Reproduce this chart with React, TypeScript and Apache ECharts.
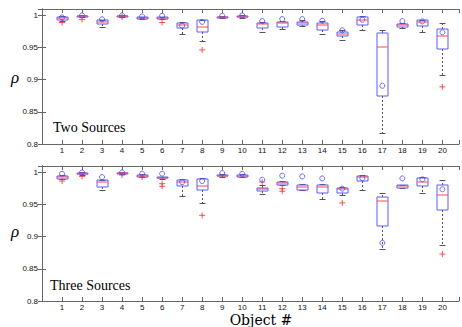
import React, { useEffect, useRef } from 'react';
import * as echarts from 'echarts';

const objects = [1, 2, 3, 4, 5, 6, 7, 8, 9, 10, 11, 12, 13, 14, 15, 16, 17, 18, 19, 20];
const yTicks = [0.8, 0.85, 0.9, 0.95, 1];

// Two Sources
const twoLow = [0.992, 0.997, 0.9815, 0.998, 0.9945, 0.9945, 0.9706, 0.9608, 0.9955, 0.9965, 0.975, 0.9788, 0.984, 0.9706, 0.9613, 0.978, 0.817, 0.981, 0.9737, 0.9067];
const twoQ1 = [0.9925, 0.997, 0.987, 0.9985, 0.9945, 0.9945, 0.98, 0.975, 0.9962, 0.997, 0.98, 0.9814, 0.9858, 0.978, 0.9675, 0.9845, 0.874, 0.9825, 0.9835, 0.9484];
const twoMed = [0.9955, 0.9985, 0.99, 0.999, 0.9957, 0.9955, 0.9845, 0.982, 0.997, 0.998, 0.986, 0.9876, 0.988, 0.9845, 0.9717, 0.9923, 0.9515, 0.9845, 0.9892, 0.968];
const twoQ3 = [0.997, 0.9995, 0.9928, 0.9998, 0.997, 0.997, 0.988, 0.9928, 0.998, 0.9993, 0.9876, 0.99, 0.99, 0.9887, 0.9737, 0.9969, 0.9732, 0.986, 0.9923, 0.979];
const twoHigh = [0.999, 1.0, 0.9935, 1.0, 0.998, 0.9975, 0.99, 0.993, 0.9985, 1.0, 0.9895, 0.992, 0.9935, 0.991, 0.977, 0.9985, 0.977, 0.9875, 0.9933, 0.989];
const twoCircle = [0.997, 1.0, 0.994, 1.0, 0.9985, 0.9995, 0.984, 0.99, 0.9995, 1.0, 0.9912, 0.9943, 0.9943, 0.9918, 0.9768, 0.9933, 0.8906, 0.9912, 0.9907, 0.9737];
const twoOutliers = [[1, 0.989], [2, 0.9935], [4, 0.9975], [6, 0.989], [8, 0.9463], [20, 0.889]];

// Three Sources
const threeLow = [0.9895, 0.9965, 0.9733, 0.997, 0.9925, 0.99, 0.964, 0.9517, 0.9935, 0.9925, 0.9665, 0.98, 0.9733, 0.9594, 0.9645, 0.9733, 0.8812, 0.9755, 0.9686, 0.8869];
const threeQ1 = [0.9903, 0.9969, 0.978, 0.9974, 0.9928, 0.9907, 0.9784, 0.9722, 0.9938, 0.9928, 0.9718, 0.981, 0.9733, 0.9676, 0.9676, 0.9861, 0.9162, 0.9764, 0.9789, 0.9418];
const threeMed = [0.993, 0.998, 0.9856, 0.9985, 0.994, 0.9915, 0.985, 0.9794, 0.995, 0.995, 0.9748, 0.983, 0.9773, 0.9768, 0.9738, 0.9923, 0.9548, 0.9784, 0.985, 0.965];
const threeQ3 = [0.9938, 0.999, 0.9877, 0.9995, 0.9954, 0.9923, 0.9877, 0.9902, 0.996, 0.9964, 0.9764, 0.9846, 0.98, 0.98, 0.9764, 0.9949, 0.9625, 0.9804, 0.9912, 0.9804];
const threeHigh = [0.996, 1.0, 0.9885, 1.0, 0.997, 0.9935, 0.99, 0.992, 0.998, 0.998, 0.981, 0.9866, 0.9815, 0.9815, 0.978, 0.9964, 0.9686, 0.981, 0.9928, 0.9887];
const threeCircle = [0.998, 1.0, 0.9928, 1.0, 0.998, 0.998, 0.985, 0.9866, 0.999, 0.998, 0.9887, 0.9949, 0.9938, 0.9907, 0.9748, 0.9912, 0.8904, 0.9907, 0.9892, 0.9738];
const threeOutliers = [[1, 0.9866], [2, 0.9938], [4, 0.996], [5, 0.9925], [6, 0.9825], [6, 0.9784], [8, 0.9332], [11, 0.985], [12, 0.9748], [12, 0.9707], [15, 0.9527], [20, 0.873]];

const boxData = (lo: number[], q1: number[], md: number[], q3: number[], hi: number[]) =>
  objects.map((o, i) => [o, lo[i], q1[i], md[i], q3[i], hi[i]]);
const circleData = (c: number[]) => objects.map((o, i) => [o, c[i]]);

const AXIS = '#666';
const BOX = '#5c5cff';
const MED = '#ff4848';
const WHISK = '#555';

const renderBox = (params: any, api: any) => {
  const x = api.value(0);
  const pt = (k: number) => api.coord([x, api.value(k)]);
  const cx0 = Math.round(pt(1)[0]);
  const cx = cx0 + 0.5;
  const yLo = Math.round(pt(1)[1]) + 0.5;
  const yQ1 = Math.round(pt(2)[1]);
  const yMd = Math.round(pt(3)[1]);
  const yQ3 = Math.round(pt(4)[1]);
  const yHi = Math.round(pt(5)[1]) + 0.5;
  const half = Math.round(api.size([0.5, 0])[0] / 2);
  const cap = Math.round(half / 2);
  const yB = Math.max(yQ1, yQ3 + 1);
  const dash = () => ({ stroke: WHISK, lineWidth: 1, lineDash: [2, 2], fill: null });
  const solid = () => ({ stroke: WHISK, lineWidth: 1, fill: null });
  const boxStyle = () => ({ stroke: BOX, lineWidth: 1, fill: null });
  const L = cx0 - half;
  const R = cx0 + half + 1;
  return {
    type: 'group',
    children: [
      { type: 'line', shape: { x1: cx, y1: yQ3, x2: cx, y2: yHi }, style: dash() },
      { type: 'line', shape: { x1: cx, y1: yB, x2: cx, y2: yLo }, style: dash() },
      { type: 'line', shape: { x1: cx - cap, y1: yHi, x2: cx + cap, y2: yHi }, style: solid() },
      { type: 'line', shape: { x1: cx - cap, y1: yLo, x2: cx + cap, y2: yLo }, style: solid() },
      { type: 'line', shape: { x1: L, y1: yQ3, x2: R, y2: yQ3 }, style: boxStyle() },
      { type: 'line', shape: { x1: L, y1: yB, x2: R, y2: yB }, style: boxStyle() },
      { type: 'line', shape: { x1: L, y1: yQ3, x2: L, y2: yB }, style: boxStyle() },
      { type: 'line', shape: { x1: R, y1: yQ3, x2: R, y2: yB }, style: boxStyle() },
      { type: 'line', shape: { x1: L, y1: yMd, x2: R, y2: yMd }, style: { stroke: MED, lineWidth: 1, fill: null } },
    ],
  };
};

const xBase = {
  type: 'value', min: 0, max: 20.83, interval: 1,
  axisLine: { show: true, lineStyle: { color: AXIS, width: 1 } },
  axisTick: { show: true, inside: true, length: 4, lineStyle: { color: AXIS } },
  splitLine: { show: false },
};
const yBase = {
  type: 'value', min: 0.8, max: 1.01, interval: 0.05,
  axisLine: { show: true, lineStyle: { color: AXIS, width: 1 } },
  axisTick: { show: true, inside: true, length: 4, lineStyle: { color: AXIS } },
  splitLine: { show: false },
};
const labelFont = { fontSize: 8, fontFamily: 'Liberation Sans', color: '#111' };
const xLabel = { ...labelFont, margin: 2, formatter: (v: number) => (objects.includes(v) ? String(v) : '') };
const yLabel = {
  ...labelFont, margin: 4,
  formatter: (v: number) => {
    const t = yTicks.find((k) => Math.abs(k - v) < 1e-6);
    return t === undefined ? '' : String(t);
  },
};

export default function App() {
  const ref = useRef<HTMLDivElement>(null);
  useEffect(() => {
    if (!ref.current) return;
    const chart = echarts.init(ref.current, undefined, { renderer: 'svg' });
    const panel = (xi: number, yi: number, lo: number[], q1: number[], md: number[], q3: number[], hi: number[], circ: number[], outs: number[][]) => [
      {
        type: 'custom', xAxisIndex: xi, yAxisIndex: yi, silent: true,
        itemStyle: { color: BOX },
        renderItem: renderBox, encode: { x: 0, y: [1, 2, 3, 4, 5] },
        data: boxData(lo, q1, md, q3, hi), clip: false,
      },
      {
        type: 'scatter', xAxisIndex: xi, yAxisIndex: yi, silent: true,
        symbol: 'path://M5,0L5,10M0,5L10,5', symbolSize: 6,
        itemStyle: { color: 'none', borderColor: '#ff2a2a', borderWidth: 1 },
        data: outs,
      },
      {
        type: 'scatter', xAxisIndex: xi, yAxisIndex: yi, silent: true,
        symbol: 'circle', symbolSize: 5,
        itemStyle: { color: 'none', borderColor: '#4646ff', borderWidth: 1 },
        data: circleData(circ),
      },
    ];
    chart.setOption({
      animation: false,
      backgroundColor: '#fff',
      grid: [
        { left: 42, top: 9, width: 418, height: 135 },
        { left: 42, top: 166, width: 418, height: 135 },
      ],
      xAxis: [
        { ...xBase, gridIndex: 0, position: 'bottom', axisLabel: xLabel },
        { ...xBase, gridIndex: 0, position: 'top', axisLabel: { show: false } },
        { ...xBase, gridIndex: 1, position: 'bottom', axisLabel: xLabel },
        { ...xBase, gridIndex: 1, position: 'top', axisLabel: { show: false } },
      ],
      yAxis: [
        { ...yBase, gridIndex: 0, position: 'left', axisLabel: yLabel },
        { ...yBase, gridIndex: 0, position: 'right', axisLabel: { show: false } },
        { ...yBase, gridIndex: 1, position: 'left', axisLabel: yLabel },
        { ...yBase, gridIndex: 1, position: 'right', axisLabel: { show: false } },
      ],
      series: [
        ...panel(0, 0, twoLow, twoQ1, twoMed, twoQ3, twoHigh, twoCircle, twoOutliers),
        ...panel(2, 2, threeLow, threeQ1, threeMed, threeQ3, threeHigh, threeCircle, threeOutliers),
      ],
      graphic: [
        { type: 'text', x: 53, y: 127, style: { text: 'Two Sources', font: '14px "Liberation Serif"', fill: '#000', verticalAlign: 'middle', align: 'left' } },
        { type: 'text', x: 50, y: 285, style: { text: 'Three Sources', font: '14px "Liberation Serif"', fill: '#000', verticalAlign: 'middle', align: 'left' } },
        { type: 'text', x: 261, y: 320, style: { text: 'Object #', font: '14px "DejaVu Serif"', fill: '#000', verticalAlign: 'middle', align: 'center' } },
        { type: 'text', x: 15, y: 77, style: { text: 'ρ', font: 'italic 17px "Liberation Serif"', fill: '#000', verticalAlign: 'middle', align: 'center' } },
        { type: 'text', x: 15, y: 231, style: { text: 'ρ', font: 'italic 17px "Liberation Serif"', fill: '#000', verticalAlign: 'middle', align: 'center' } },
      ],
    });
    return () => chart.dispose();
  }, []);
  return <div ref={ref} style={{ position: 'absolute', left: 0, top: 0, width: 462, height: 327 }} />;
}
